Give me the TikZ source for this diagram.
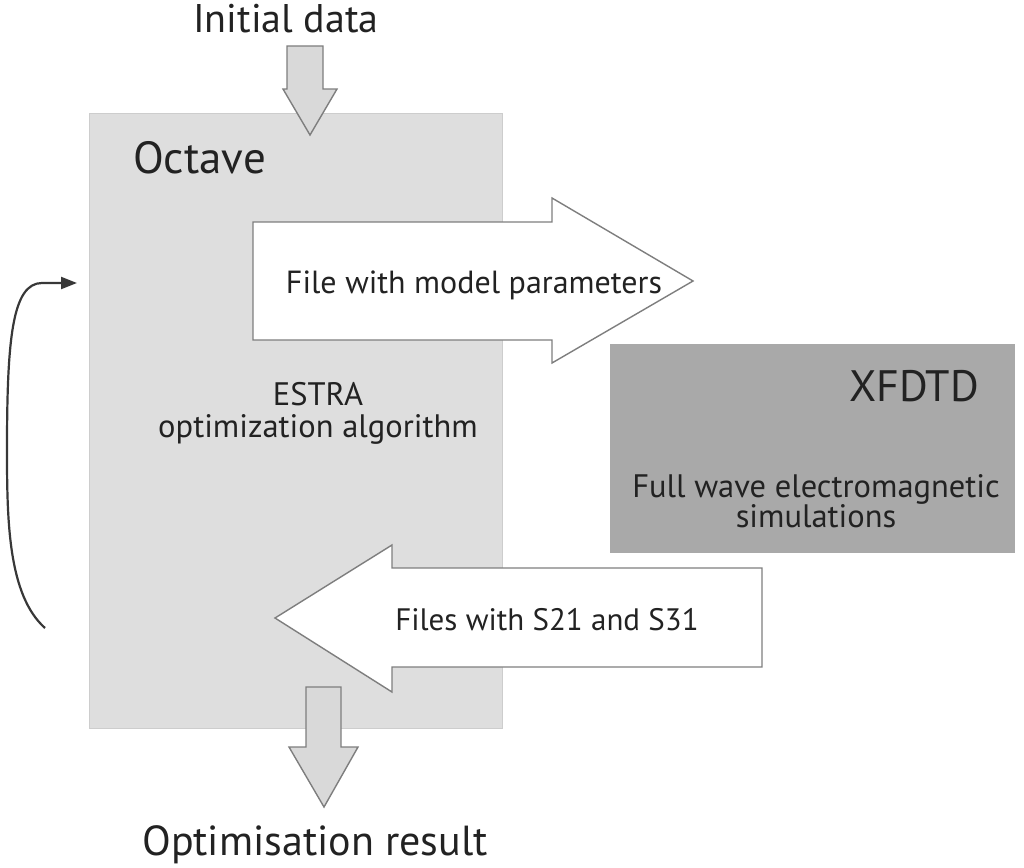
\documentclass[tikz,border=0pt]{standalone}
\usepackage{fontspec}
\setmainfont{PT Sans}
\usetikzlibrary{arrows.meta}

\definecolor{octavegray}{HTML}{DEDEDE}
\definecolor{octaveedge}{HTML}{CDCDCD}
\definecolor{xfdtdgray}{HTML}{A9A9A9}
\definecolor{arrowgray}{HTML}{D9D9D9}
\definecolor{arrowedge}{HTML}{7E7E7E}
\definecolor{inkgray}{HTML}{222222}

\newcommand{\fsz}[2]{\fontsize{#1}{#2}\selectfont}

\tikzstyle{label}=[inner sep=0pt,text=inkgray]
\tikzstyle{blockarrow}=[draw=arrowedge,line width=1.4pt,line join=miter]
\tikzstyle{looparrow}=[draw=inkgray!90,line width=2.2pt,-{Triangle[length=16pt,width=12pt]}]

\begin{document}
\begin{tikzpicture}[x=1pt,y=-1pt]
\useasboundingbox (0,0) rectangle (1024,867);

% boxes
\fill[octavegray,draw=octaveedge,line width=1pt] (89,113) rectangle (502,728);
\fill[xfdtdgray] (610,344) rectangle (1015,553);

% block arrows
\path[blockarrow,fill=white] (253,222) -- (552,222) -- (552,198) -- (693,281)
  -- (552,363) -- (552,340) -- (253,340) -- cycle;
\path[blockarrow,fill=white] (762,568) -- (392,568) -- (392,545) -- (275,618)
  -- (392,692) -- (392,667) -- (762,667) -- cycle;
\path[blockarrow,fill=arrowgray] (287,46) -- (323,46) -- (323,89) -- (337,89)
  -- (310,135) -- (283,89) -- (287,89) -- cycle;
\path[blockarrow,fill=arrowgray] (306,687) -- (341,687) -- (341,747) -- (358,747)
  -- (324,807) -- (289,747) -- (306,747) -- cycle;

% texts
\node[label,anchor=base,font=\fsz{40}{44}] (initial) at (286,33) {Initial data};
\node[label,anchor=base west,font=\fsz{45}{48}] (octave) at (133,173) {Octave};
\node[label,anchor=base,font=\fsz{32}{34}] (params) at (474,293) {File with model parameters};
\node[label,anchor=base,align=center,font=\fsz{32.5}{32}] (estra) at (318,437) {ESTRA\\optimization algorithm};
\node[label,anchor=base,font=\fsz{44}{50}] (xfdtd) at (914,401) {XFDTD};
\node[label,anchor=base,align=center,font=\fsz{32.5}{30}] (fullwave) at (816,527) {Full wave electromagnetic\\simulations};
\node[label,anchor=base,font=\fsz{31}{32}] (sfiles) at (547,630) {Files with S21 and S31};
\node[label,anchor=base,font=\fsz{42}{44}] (result) at (315,855) {Optimisation result};

% feedback loop
\coordinate (loopstart) at (45,628);
\coordinate (loopend) at (77,283);
\draw[looparrow] (loopstart) .. controls (8,595) and (7,520) .. (7,450)
  .. controls (7,340) and (12,283) .. (42,283) -- (loopend);
\end{tikzpicture}
\end{document}
